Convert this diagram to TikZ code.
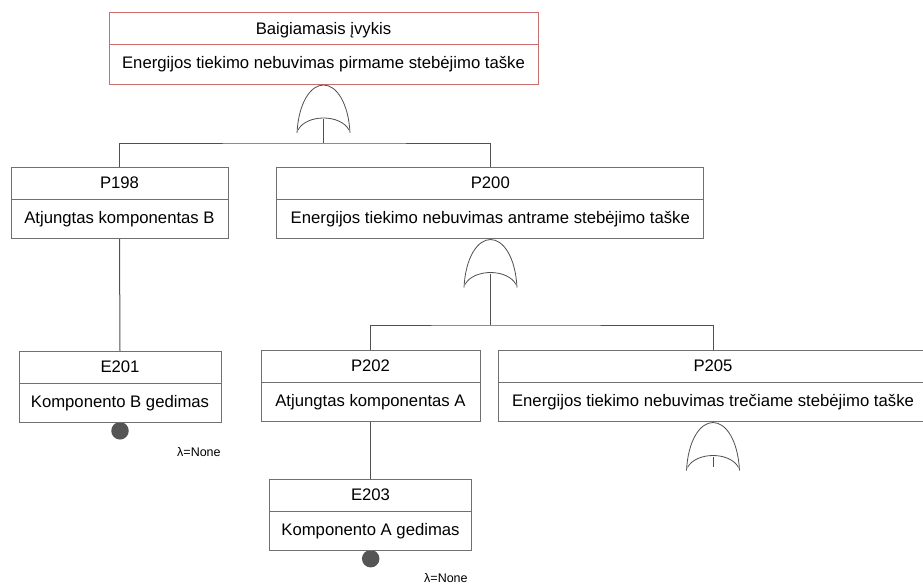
\documentclass[tikz,border=0pt]{standalone}
\usepackage{fontspec}
\setmainfont{Liberation Sans}
\definecolor{boxgray}{RGB}{112,112,112}
\definecolor{topred}{RGB}{200,110,110}
\definecolor{wiregray}{RGB}{80,80,80}
\definecolor{dotgray}{RGB}{85,85,85}
\tikzset{
  evbox/.style={draw=boxgray, line width=1pt, fill=white, inner sep=0pt},
  topbox/.style={draw=topred, line width=1pt, fill=white, inner sep=0pt},
  txt/.style={inner sep=0pt, text=black, font=\fontsize{16.7}{19}\selectfont},
  rate/.style={inner sep=0pt, text=black, font=\fontsize{12.5}{14}\selectfont},
  wire/.style={draw=wiregray, line width=1pt},
  gateline/.style={draw=wiregray, line width=0.8pt},
  basicdot/.style={circle, fill=dotgray, inner sep=0pt, minimum size=17.5pt},
  andgate/.pic={
    \draw[gateline] (-26.5,48) .. controls (-25,18) and (-13,0) .. (0,0)
                    .. controls (13,0) and (25,18) .. (26.5,48);
    \draw[gateline] (-25.5,45) .. controls (-17,29) and (17,29) .. (25.5,45);
    \coordinate (-in) at (0,34);
  }
}
% event box: name, style, centre x, top y, width, identifier, description
\newcommand\ftevent[7]{%
  \node[#2, minimum width=#5pt, minimum height=71pt, anchor=north] (#1) at (#3,#4) {};
  \draw[#2] ([yshift=-32.5pt]#1.north west) -- ([yshift=-32.5pt]#1.north east);
  \node[txt, anchor=base] (#1-id) at ([yshift=-21.8pt]#1.north) {#6};
  \node[txt, anchor=base] (#1-desc) at ([yshift=-56pt]#1.north) {#7};
}
\begin{document}
\begin{tikzpicture}[x=1pt, y=-1pt]
\path[use as bounding box, clip] (0,0) rectangle (923,586);
\fill[white] (0,0) rectangle (923,586);

% basic events' markers (drawn first, the boxes cover their tops)
\node[basicdot] (e201-dot) at (120,430.8) {};
\node[basicdot] (e203-dot) at (370.7,558.7) {};

% events
\ftevent{top}{topbox}{323.5}{12.5}{429}{Baigiamasis įvykis}{Energijos tiekimo nebuvimas pirmame stebėjimo taške}
\ftevent{p198}{evbox}{119.5}{167}{217}{P198}{Atjungtas komponentas B}
\ftevent{p200}{evbox}{490.3}{167}{427}{P200}{Energijos tiekimo nebuvimas antrame stebėjimo taške}
\ftevent{e201}{evbox}{120}{351}{202}{E201}{Komponento B gedimas}
\ftevent{p202}{evbox}{370.5}{350}{219}{P202}{Atjungtas komponentas A}
\ftevent{p205}{evbox}{713}{350}{430}{P205}{Energijos tiekimo nebuvimas trečiame stebėjimo taške}
\ftevent{e203}{evbox}{370.5}{479}{202}{E203}{Komponento A gedimas}

% gates
\pic (g1) at (323.5,85) {andgate};
\pic (g2) at (490.5,239.5) {andgate};
\pic (g3) at (713,422.5) {andgate};

% junctions
\coordinate (j1) at (323.5,143);
\coordinate (j2) at (490.5,325);
\coordinate (g3-stub) at (713,467);

% connectors
\draw[wire] (g1-in) -- (j1);
\draw[wire] (p198.north) |- (j1) -| (p200.north);
\draw[wire] (p198.south) -- (e201.north);
\draw[wire] (g2-in) -- (j2);
\draw[wire] (p202.north) |- (j2) -| (p205.north);
\draw[wire] (p202.south) -- (e203.north);
\draw[wire] (g3-in) -- (g3-stub);

% failure rates
\node[rate, anchor=base west] (e201-rate) at (177,456.7) {λ=None};
\node[rate, anchor=base west] (e203-rate) at (424,582.7) {λ=None};
\end{tikzpicture}
\end{document}
